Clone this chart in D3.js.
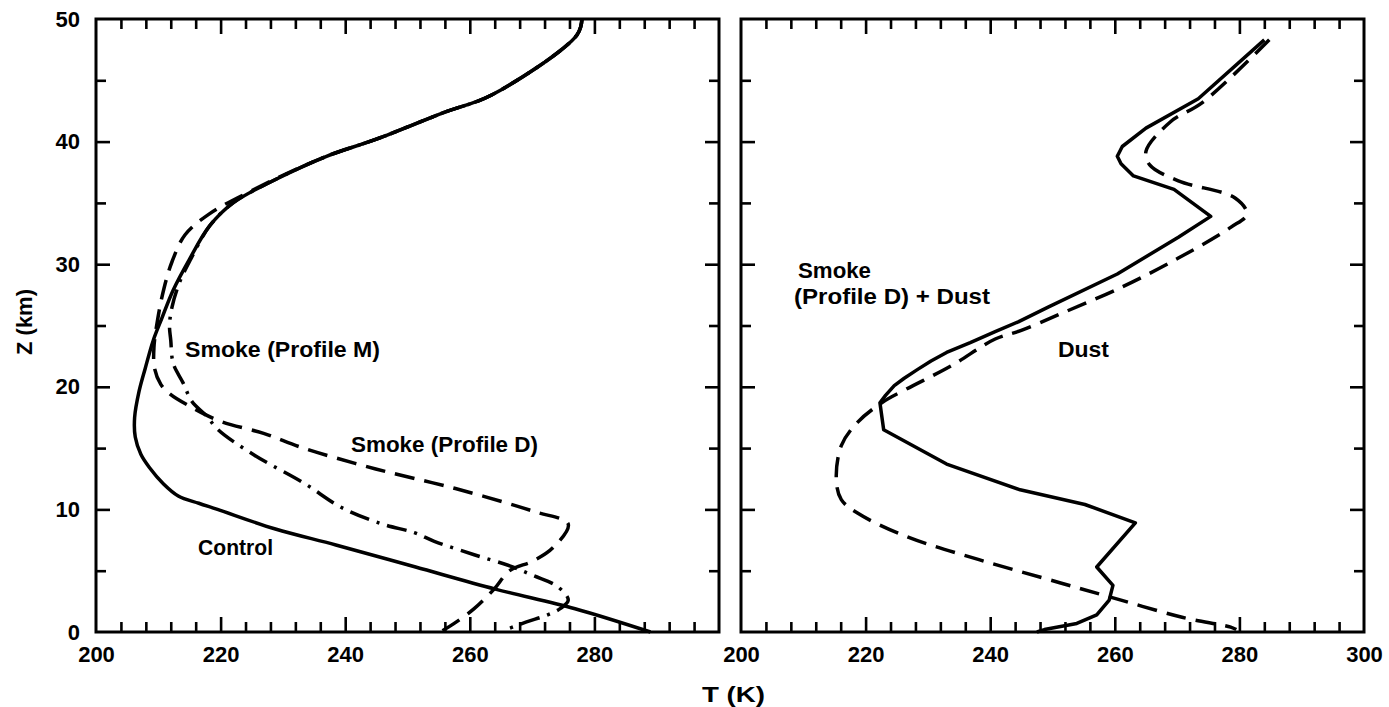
<!DOCTYPE html>
<html><head><meta charset="utf-8">
<script src="https://cdn.jsdelivr.net/npm/d3@7"></script>
<style>
html,body{margin:0;padding:0;background:#fff;}
svg{display:block;}
text{font-family:"Liberation Sans",Arial,sans-serif;font-weight:bold;fill:#000;}
</style>
</head><body>
<svg id="c" width="1389" height="707"></svg>
<script>
// ---- data (T in K, Z in km) ----
const tempTicksLeft = [200, 220, 240, 260, 280];
const tempTicksRight = [200, 220, 240, 260, 280, 300];
const heightTicks = [0, 10, 20, 30, 40, 50];

const control = [[278.0,50],[277.2,48.7],[263.5,43.8],[256,42.4],[245,40.2],[237,38.8],[228,36.7],[222,35.0],[218.2,33.1],[215,30.4],[212.4,27.9],[210.5,25.5],[209.2,23.8],[207.9,21.5],[206.9,19.6],[206.2,17.5],[206.3,15.9],[207.2,14.5],[208.6,13.4],[210.8,12.1],[213.2,11.1],[216.5,10.5],[219.5,10.0],[228.8,8.4],[238.5,7.1],[251.3,5.3],[264.1,3.5],[276.9,1.9],[289,0]];

const smokeD = [[278.0,50],[277.2,48.7],[263.5,43.8],[256,42.4],[245,40.2],[236,38.6],[225,36.0],[218.2,34.1],[214.3,32.4],[212.2,30.2],[210.9,28],[209.9,25.5],[209.3,23.2],[209.4,21.5],[210.4,20.2],[211.9,19.4],[215.1,18.4],[219.9,17.2],[226.9,16.2],[233.3,15.0],[244.9,13.3],[257.7,11.7],[270.5,9.8],[275.8,8.8],[273.4,6.9],[270.2,5.8],[266.4,5.0],[263.9,3.5],[260.7,1.9],[257.5,0.7],[255.6,0.1]];

const smokeM = [[278.0,50],[277.2,48.7],[263.5,43.8],[256,42.4],[245,40.2],[237,38.8],[228,36.7],[222,35.0],[218.2,33.1],[215.2,30.4],[213.4,28.5],[212.2,26.5],[211.8,25],[212,23.8],[212.4,21.9],[214,20.3],[215.4,18.8],[217.8,17.6],[219.6,16.5],[225.5,14.4],[233.2,12.2],[239.6,10.1],[246,8.8],[251.1,8.1],[254.3,7.4],[260.7,6.3],[266.4,5.4],[270.2,4.6],[274.1,3.7],[275.8,2.6],[274.5,1.9],[272.5,1.4],[269,0.8],[265.3,0.1]];

const smokeDust = [[284,48.3],[273.4,43.5],[265,41.1],[261.2,39.6],[260.4,38.8],[261,38.2],[263,37.2],[269.5,36.1],[275.4,33.9],[270.2,32.2],[260.4,29.2],[249.3,26.5],[244.5,25.3],[240.8,24.5],[236.8,23.6],[233,22.8],[230.5,22.1],[228.3,21.4],[226.2,20.7],[224.6,20.1],[223.2,19.3],[222.3,18.7],[222.9,16.5],[233,13.7],[244.8,11.6],[255.2,10.4],[263.3,8.9],[257.1,5.3],[259.7,3.8],[259.1,2.6],[257.1,1.4],[253.9,0.7],[248.7,0.2],[247.5,0]];

const dust = [[284.8,48.3],[274.1,43.2],[268.9,41.6],[265,39.2],[265.6,38.1],[270.2,36.8],[279.3,35.4],[281.2,34.1],[278.6,33],[270.2,30.5],[261,28.1],[251.5,26],[245,24.6],[240.8,23.9],[233.7,21.7],[226.5,19.8],[222.6,18.7],[218.7,17.1],[216.1,15.2],[215.3,12.4],[216.1,10.8],[218.7,9.7],[226.5,7.8],[238.2,5.9],[251.3,4.0],[261,2.6],[270.8,1.2],[278.6,0.4],[279.5,0.2]];

// ---- layout ----
const svg = d3.select("#c");
const yScale = d3.scaleLinear().domain([0, 50]).range([632, 19]);
const xLeft = d3.scaleLinear().domain([200, 300]).range([96, 719]);
const xRight = d3.scaleLinear().domain([200, 300]).range([741, 1364]);

const minorT = d3.range(204, 300, 4).filter(v => v % 20 !== 0);
const majorT = [220, 240, 260, 280];
const minorZ = [5, 15, 25, 35, 45];
const majorZ = [10, 20, 30, 40];

function styleAxis(g) {
  g.select(".domain").remove();
  g.selectAll("line").attr("stroke", "#000").attr("stroke-width", 2.6);
  g.attr("font-family", "Liberation Sans, Arial, sans-serif").attr("font-size", 22).attr("font-weight", "bold");
  g.selectAll("text").attr("fill", "#000");
}

function panel(x, xLabels, showY) {
  const g = svg.append("g");
  const [x0, x1] = x.range();
  const [yb, yt] = yScale.range();
  g.append("g").attr("transform", `translate(0,${yb})`).call(d3.axisBottom(x).tickValues(minorT).tickSize(-10).tickFormat("")).call(styleAxis);
  g.append("g").attr("transform", `translate(0,${yb})`).call(d3.axisBottom(x).tickValues(majorT).tickSize(-15).tickFormat("")).call(styleAxis);
  g.append("g").attr("transform", `translate(0,${yt})`).call(d3.axisTop(x).tickValues(minorT).tickSize(-10).tickFormat("")).call(styleAxis);
  g.append("g").attr("transform", `translate(0,${yt})`).call(d3.axisTop(x).tickValues(majorT).tickSize(-15).tickFormat("")).call(styleAxis);
  g.append("g").attr("transform", `translate(${x0},0)`).call(d3.axisLeft(yScale).tickValues(minorZ).tickSize(-10).tickFormat("")).call(styleAxis);
  g.append("g").attr("transform", `translate(${x0},0)`).call(d3.axisLeft(yScale).tickValues(majorZ).tickSize(-14).tickFormat("")).call(styleAxis);
  g.append("g").attr("transform", `translate(${x1},0)`).call(d3.axisRight(yScale).tickValues(minorZ).tickSize(-10).tickFormat("")).call(styleAxis);
  g.append("g").attr("transform", `translate(${x1},0)`).call(d3.axisRight(yScale).tickValues(majorZ).tickSize(-14).tickFormat("")).call(styleAxis);
  g.append("g").attr("transform", `translate(0,${yb})`).call(d3.axisBottom(x).tickValues(xLabels).tickSize(0).tickPadding(14).tickFormat(d3.format("d"))).call(styleAxis);
  if (showY) {
    g.append("g").attr("transform", `translate(${x0},0)`).call(d3.axisLeft(yScale).tickValues(heightTicks).tickSize(0).tickPadding(16).tickFormat(d3.format("d"))).call(styleAxis);
  }
  g.append("rect").attr("x", x0).attr("y", yt).attr("width", x1 - x0).attr("height", yb - yt)
    .attr("fill", "none").attr("stroke", "#000").attr("stroke-width", 3);
  return g;
}

const gl = panel(xLeft, tempTicksLeft, true);
const gr = panel(xRight, tempTicksRight, false);

function drawLine(g, x, data, dash, curve) {
  const line = d3.line().x(d => x(d[0])).y(d => yScale(d[1])).curve(curve);
  g.append("path").datum(data).attr("d", line).attr("fill", "none").attr("stroke", "#000")
    .attr("stroke-width", 3.5).attr("stroke-linejoin", "round")
    .attr("stroke-dasharray", dash);
}
const smooth = d3.curveCatmullRom.alpha(0.5);
drawLine(gl, xLeft, control, null, smooth);
drawLine(gl, xLeft, smokeD, "20,10", smooth);
drawLine(gl, xLeft, smokeM, "20,8,3,8", smooth);
drawLine(gr, xRight, smokeDust, null, d3.curveLinear);
drawLine(gr, xRight, dust, "20,10", smooth);

// ---- labels ----
function label(text, x, y, len) {
  svg.append("text").attr("x", x).attr("y", y).attr("font-size", 22)
    .attr("textLength", len).attr("lengthAdjust", "spacingAndGlyphs").text(text);
}
label("Smoke (Profile M)", 185, 357, 195);
label("Smoke (Profile D)", 351, 452, 187);
label("Control", 198, 555, 75);
label("Smoke", 798, 278, 73);
label("(Profile D) + Dust", 794, 304, 196);
label("Dust", 1058, 357, 51);
label("T (K)", 702, 702, 63);
svg.append("text").attr("transform", "translate(32,322) rotate(-90)").attr("text-anchor", "middle")
  .attr("font-size", 22).attr("textLength", 66).attr("lengthAdjust", "spacingAndGlyphs").text("Z (km)");
</script>
</body></html>
